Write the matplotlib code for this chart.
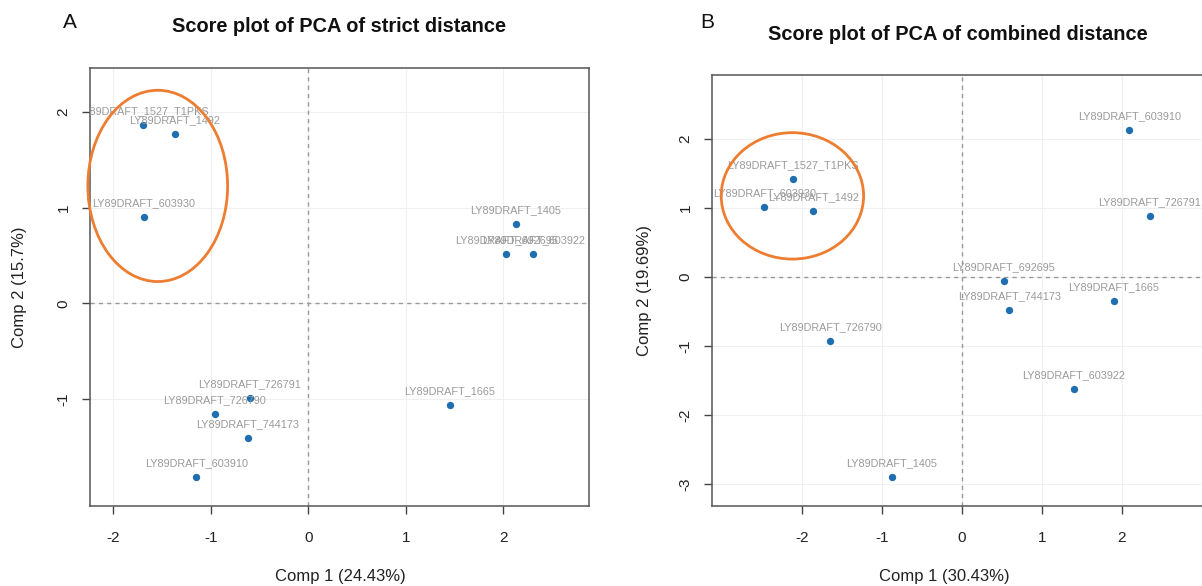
import numpy as np
import matplotlib
matplotlib.use("Agg")
import matplotlib.pyplot as plt
from matplotlib.patches import Ellipse

plt.rcParams['font.family'] = ['Liberation Sans', 'DejaVu Sans']

# PCA scores, strict distance
strict_names = ["LY89DRAFT_1527_T1PKS", "LY89DRAFT_1492", "LY89DRAFT_603930",
                "LY89DRAFT_1405", "LY89DRAFT_692695", "LY89DRAFT_603922",
                "LY89DRAFT_1665", "LY89DRAFT_726791", "LY89DRAFT_726790",
                "LY89DRAFT_744173", "LY89DRAFT_603910"]
strict_pc1 = [-1.70, -1.37, -1.69, 2.13, 2.03, 2.31, 1.45, -0.60, -0.96, -0.62, -1.15]
strict_pc2 = [1.86, 1.77, 0.90, 0.83, 0.52, 0.52, -1.06, -0.99, -1.16, -1.41, -1.82]

# PCA scores, combined distance
comb_names = ["LY89DRAFT_603910", "LY89DRAFT_1527_T1PKS", "LY89DRAFT_603930",
              "LY89DRAFT_1492", "LY89DRAFT_726791", "LY89DRAFT_692695",
              "LY89DRAFT_744173", "LY89DRAFT_1665", "LY89DRAFT_726790",
              "LY89DRAFT_603922", "LY89DRAFT_1405"]
comb_pc1 = [2.09, -2.11, -2.47, -1.86, 2.35, 0.52, 0.59, 1.90, -1.65, 1.40, -0.88]
comb_pc2 = [2.13, 1.42, 1.01, 0.95, 0.88, -0.06, -0.48, -0.35, -0.93, -1.63, -2.90]

W, H = 1202, 586
fig = plt.figure(figsize=(W / 100, H / 100), dpi=100)


def px_rect(left, top, right, bottom):
    return [left / W, 1 - bottom / H, (right - left) / W, (bottom - top) / H]


def score_plot(ax, names, pc1, pc2, xlim, ylim, xticks, yticks):
    ax.set_xlim(*xlim)
    ax.set_ylim(*ylim)
    ax.set_xticks(xticks)
    ax.set_yticks(yticks)
    ax.set_xticklabels([str(t) for t in xticks])
    ax.set_yticklabels([str(t) for t in yticks], rotation=90, va='center')
    ax.grid(True, color='#f0f0f0', lw=0.8)
    ax.set_axisbelow(True)
    ax.axhline(0, color='#999999', lw=1, ls=(0, (3, 3)), zorder=1)
    ax.axvline(0, color='#999999', lw=1, ls=(0, (3, 3)), zorder=1)
    ax.scatter(pc1, pc2, s=28, color='#1f6fb0', zorder=3, linewidths=0)
    for n, x, y in zip(names, pc1, pc2):
        ax.annotate(n, (x, y), xytext=(0, 10), textcoords='offset points',
                    ha='center', va='center', fontsize=7.8, color='#9a9a9a',
                    clip_on=True, zorder=4)
    for s in ax.spines.values():
        s.set_color('#555555')
        s.set_linewidth(1.1)
    ax.tick_params(direction='out', length=6, width=1, color='#444444',
                   labelsize=11, labelcolor='#222222')
    ax.tick_params(axis='x', pad=12)
    ax.tick_params(axis='y', pad=8)


axA = fig.add_axes(px_rect(90, 68, 589, 506))
score_plot(axA, strict_names, strict_pc1, strict_pc2,
           (-2.24, 2.88), (-2.12, 2.46), [-2, -1, 0, 1, 2], [-1, 0, 1, 2])
axA.add_patch(Ellipse((-1.545, 1.227), 1.434, 2.0, fill=False,
                      ec='#ed7d31', lw=2, clip_on=False, zorder=5))

axB = fig.add_axes(px_rect(712, 75, 1210, 506))
score_plot(axB, comb_names, comb_pc1, comb_pc2,
           (-3.125, 3.1), (-3.32, 2.92), [-2, -1, 0, 1, 2], [-3, -2, -1, 0, 1, 2])
axB.add_patch(Ellipse((-2.12, 1.17), 1.78, 1.83, fill=False,
                      ec='#ed7d31', lw=2, clip_on=False, zorder=5))

# titles, axis labels and panel letters
fig.text(339 / W, 1 - 27 / H, "Score plot of PCA of strict distance",
         ha='center', va='center', fontsize=14.4, fontweight='bold', color='#111111')
fig.text(958 / W, 1 - 35 / H, "Score plot of PCA of combined distance",
         ha='center', va='center', fontsize=14.4, fontweight='bold', color='#111111')
fig.text(340 / W, 1 - 577 / H, "Comp 1 (24.43%)", ha='center', va='center',
         fontsize=12, color='#222222')
fig.text(944 / W, 1 - 576 / H, "Comp 1 (30.43%)", ha='center', va='center',
         fontsize=12, color='#222222')
fig.text(20 / W, 1 - 287 / H, "Comp 2 (15.7%)", ha='center', va='center',
         rotation=90, fontsize=12, color='#222222')
fig.text(645 / W, 1 - 290 / H, "Comp 2 (19.69%)", ha='center', va='center',
         rotation=90, fontsize=12, color='#222222')
fig.text(70 / W, 1 - 22 / H, "A", ha='center', va='center', fontsize=15, color='#111111')
fig.text(707 / W, 1 - 22 / H, "B", ha='center', va='center', fontsize=15, color='#111111')

fig.savefig("out.png", dpi=100, facecolor='white')
